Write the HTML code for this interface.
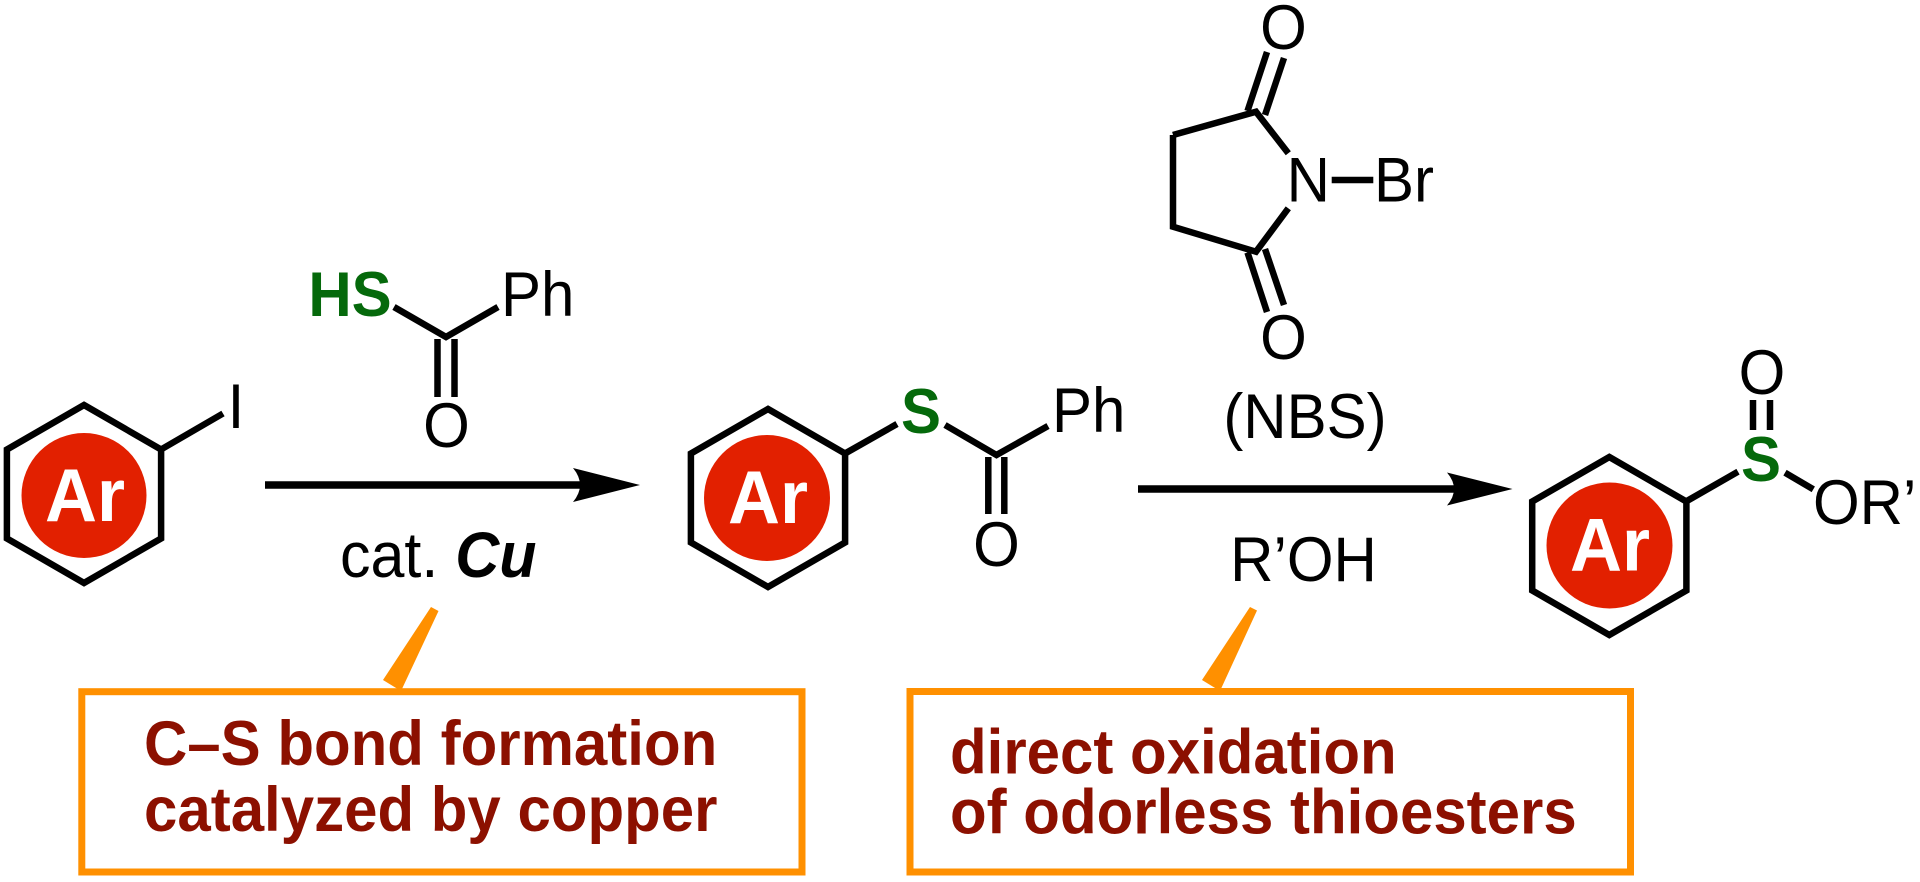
<!DOCTYPE html>
<html>
<head>
<meta charset="utf-8">
<style>
  html, body { margin: 0; padding: 0; background: #ffffff; }
  body { width: 1920px; height: 882px; overflow: hidden; }
  svg { display: block; }
  text { font-family: "Liberation Sans", Arial, Helvetica, sans-serif; }
</style>
</head>
<body>
<svg width="1920" height="882" viewBox="0 0 1920 882" xmlns="http://www.w3.org/2000/svg">
  <rect x="0" y="0" width="1920" height="882" fill="#ffffff"/>

  <!-- ============ Left: Ar-I ============ -->
  <polygon points="84,405 161.1,449.5 161.1,538.5 84,583 6.9,538.5 6.9,449.5" fill="none" stroke="#000" stroke-width="6.5" stroke-linejoin="miter"/>
  <circle cx="84" cy="495.5" r="62.5" fill="#e22000"/>
  <text x="85" y="521" font-size="72" font-weight="bold" fill="#fff" text-anchor="middle" transform="matrix(1,0,0,1.044,0,-22.92)">Ar</text>
  <line x1="161" y1="449.5" x2="223" y2="413.5" stroke="#000" stroke-width="6.5"/>
  <text x="236" y="428" font-size="60" text-anchor="middle" fill="#000" transform="matrix(1,0,0,1.044,0,-18.83)">I</text>

  <!-- ============ Thiobenzoic acid reagent ============ -->
  <text x="350" y="316" font-size="60" font-weight="bold" fill="#05690b" text-anchor="middle" transform="matrix(1,0,0,1.044,0,-13.90)">HS</text>
  <polyline points="394,307 446,337 498,307" fill="none" stroke="#000" stroke-width="6.5" stroke-linejoin="miter"/>
  <line x1="437.5" y1="339" x2="437.5" y2="397" stroke="#000" stroke-width="6.5"/>
  <line x1="454.5" y1="339" x2="454.5" y2="397" stroke="#000" stroke-width="6.5"/>
  <text x="446.5" y="447" font-size="60" text-anchor="middle" fill="#000" transform="matrix(1,0,0,1.044,0,-19.67)">O</text>
  <text x="501" y="316" font-size="60" fill="#000" transform="matrix(1,0,0,1.044,0,-13.90)">Ph</text>

  <!-- ============ Arrow 1 ============ -->
  <line x1="265" y1="485" x2="584" y2="485" stroke="#000" stroke-width="7.5"/>
  <path d="M640,485 L573,468 Q587,485 573,502 Z" fill="#000"/>
  <text x="340" y="577" font-size="61" fill="#000" transform="matrix(1,0,0,1.044,0,-25.39)">cat. <tspan font-weight="bold" font-style="italic">Cu</tspan></text>

  <!-- ============ Middle: thioester ============ -->
  <polygon points="768,409 845.1,453.5 845.1,542.5 768,587 690.9,542.5 690.9,453.5" fill="none" stroke="#000" stroke-width="6.5" stroke-linejoin="miter"/>
  <circle cx="767" cy="498" r="63" fill="#e22000"/>
  <text x="768" y="523" font-size="72" font-weight="bold" fill="#fff" text-anchor="middle" transform="matrix(1,0,0,1.044,0,-23.01)">Ar</text>
  <line x1="845" y1="453.5" x2="897" y2="424" stroke="#000" stroke-width="6.5"/>
  <text x="921" y="433" font-size="60" font-weight="bold" fill="#05690b" text-anchor="middle" transform="matrix(1,0,0,1.044,0,-19.05)">S</text>
  <polyline points="945,425 996.5,455 1048,426" fill="none" stroke="#000" stroke-width="6.5" stroke-linejoin="miter"/>
  <line x1="988.3" y1="457" x2="988.3" y2="514" stroke="#000" stroke-width="6.5"/>
  <line x1="1004.3" y1="457" x2="1004.3" y2="514" stroke="#000" stroke-width="6.5"/>
  <text x="996.5" y="566" font-size="60" text-anchor="middle" fill="#000" transform="matrix(1,0,0,1.044,0,-24.90)">O</text>
  <text x="1052" y="432" font-size="60" fill="#000" transform="matrix(1,0,0,1.044,0,-19.01)">Ph</text>

  <!-- ============ NBS ============ -->
  <polyline points="1173,135 1256,111.7 1288.3,153.3" fill="none" stroke="#000" stroke-width="6.5" stroke-linejoin="miter"/>
  <polyline points="1288.3,208.3 1256,251.7 1173,226.7 1173,135" fill="none" stroke="#000" stroke-width="6.5" stroke-linejoin="miter"/>
  <line x1="1247.5" y1="111" x2="1267" y2="52" stroke="#000" stroke-width="6.5"/>
  <line x1="1265" y1="115" x2="1284" y2="58" stroke="#000" stroke-width="6.5"/>
  <line x1="1247.5" y1="252.5" x2="1267" y2="312" stroke="#000" stroke-width="6.5"/>
  <line x1="1265" y1="249" x2="1284" y2="305" stroke="#000" stroke-width="6.5"/>
  <text x="1283.5" y="49" font-size="60" text-anchor="middle" fill="#000" transform="matrix(1,0,0,1.044,0,-2.16)">O</text>
  <text x="1283.5" y="359" font-size="60" text-anchor="middle" fill="#000" transform="matrix(1,0,0,1.044,0,-15.80)">O</text>
  <text x="1308.3" y="201.7" font-size="60" text-anchor="middle" fill="#000" transform="matrix(1,0,0,1.044,0,-8.87)">N</text>
  <line x1="1331.7" y1="180" x2="1373.3" y2="180" stroke="#000" stroke-width="6.5"/>
  <text x="1374" y="201.7" font-size="60" fill="#000" transform="matrix(1,0,0,1.044,0,-8.87)">Br</text>
  <text x="1305" y="438" font-size="60" text-anchor="middle" fill="#000" transform="matrix(1,0,0,1.044,0,-19.27)">(NBS)</text>

  <!-- ============ Arrow 2 ============ -->
  <line x1="1138" y1="489" x2="1458" y2="489" stroke="#000" stroke-width="7.5"/>
  <path d="M1512.5,489 L1447,472.5 Q1461,489 1447,505.5 Z" fill="#000"/>
  <text x="1303.5" y="581" font-size="60" text-anchor="middle" fill="#000" transform="matrix(1,0,0,1.044,0,-25.56)">R’OH</text>

  <!-- ============ Product: sulfinate ============ -->
  <polygon points="1609.3,457 1686.4,501.5 1686.4,590.5 1609.3,635 1532.2,590.5 1532.2,501.5" fill="none" stroke="#000" stroke-width="6.5" stroke-linejoin="miter"/>
  <circle cx="1609.5" cy="545.5" r="63" fill="#e22000"/>
  <text x="1610" y="570.7" font-size="72" font-weight="bold" fill="#fff" text-anchor="middle" transform="matrix(1,0,0,1.044,0,-25.11)">Ar</text>
  <line x1="1686" y1="501.5" x2="1738" y2="471.7" stroke="#000" stroke-width="6.5"/>
  <text x="1761" y="481" font-size="60" font-weight="bold" fill="#05690b" text-anchor="middle" transform="matrix(1,0,0,1.044,0,-21.16)">S</text>
  <line x1="1753" y1="400" x2="1753" y2="430" stroke="#000" stroke-width="6.5"/>
  <line x1="1770" y1="400" x2="1770" y2="430" stroke="#000" stroke-width="6.5"/>
  <text x="1762" y="394" font-size="60" text-anchor="middle" fill="#000" transform="matrix(1,0,0,1.044,0,-17.34)">O</text>
  <line x1="1785" y1="472.7" x2="1813.3" y2="489.3" stroke="#000" stroke-width="6.5"/>
  <text x="1813" y="524" font-size="60" fill="#000" transform="matrix(1,0,0,1.044,0,-23.06)">OR’</text>

  <!-- ============ Callouts ============ -->
  <polygon points="431,607 438.5,611 401,691 383,680" fill="#ff9000"/>
  <rect x="81.8" y="691.7" width="720.2" height="180.3" fill="none" stroke="#ff9000" stroke-width="7"/>
  <text x="144" y="765" font-size="60" font-weight="bold" fill="#8c1000" transform="matrix(1,0,0,1.044,0,-33.66)">C–S bond formation</text>
  <text x="144" y="831" font-size="60" font-weight="bold" fill="#8c1000" transform="matrix(1,0,0,1.044,0,-36.56)">catalyzed by copper</text>

  <polygon points="1250,607 1257,610.5 1220,691 1202,680" fill="#ff9000"/>
  <rect x="910" y="691.5" width="720.5" height="180.5" fill="none" stroke="#ff9000" stroke-width="7"/>
  <text x="950" y="773.3" font-size="60" font-weight="bold" fill="#8c1000" transform="matrix(1,0,0,1.044,0,-34.03)">direct oxidation</text>
  <text x="950" y="833.3" font-size="60" font-weight="bold" fill="#8c1000" transform="matrix(1,0,0,1.044,0,-36.67)">of odorless thioesters</text>
</svg>
</body>
</html>
